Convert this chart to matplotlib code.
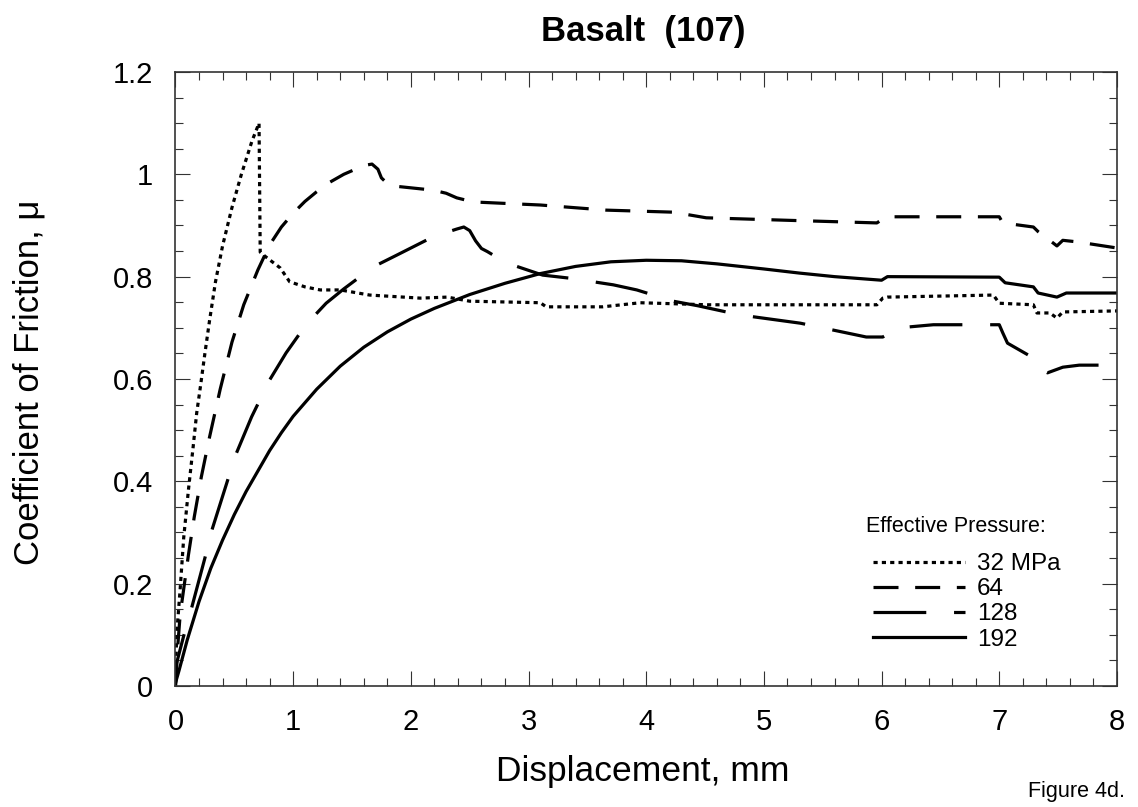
import matplotlib
matplotlib.use('Agg')
import matplotlib.pyplot as plt
from matplotlib.ticker import MultipleLocator, FuncFormatter

plt.rcParams['font.family'] = ['Liberation Sans', 'DejaVu Sans']
plt.rcParams['lines.scale_dashes'] = False

# data (displacement mm, friction coefficient)
x32 = [0.0, 0.01, 0.04, 0.07, 0.11, 0.15, 0.18, 0.21, 0.25, 0.29, 0.34, 0.40, 0.48, 0.56, 0.65,
       0.71, 0.72, 0.76, 0.89, 0.97, 1.1, 1.23, 1.4, 1.65, 2.08, 2.31, 2.5, 3.1, 3.15, 3.63,
       3.95, 4.52, 5.08, 5.6, 5.96, 6.01, 6.05, 6.95, 7.0, 7.29, 7.32, 7.43, 7.49, 7.54, 8.0]
y32 = [0.01, 0.10, 0.19, 0.29, 0.383, 0.467, 0.533, 0.582, 0.65, 0.715, 0.79, 0.86, 0.935, 1.0, 1.065,
       1.10, 0.848, 0.84, 0.817, 0.79, 0.78, 0.774, 0.774, 0.764, 0.758, 0.760, 0.752, 0.749, 0.741, 0.741,
       0.749, 0.745, 0.745, 0.745, 0.745, 0.758, 0.760, 0.764, 0.748, 0.745, 0.729, 0.729, 0.719, 0.731, 0.733]

x64 = [0.0, 0.02, 0.04, 0.11, 0.16, 0.22, 0.29, 0.38, 0.48, 0.58, 0.70, 0.80, 0.90, 1.0, 1.1,
       1.2, 1.3, 1.43, 1.55, 1.62, 1.67, 1.72, 1.75, 1.8, 1.9, 2.19, 2.3, 2.39, 2.53, 3.1,
       3.66, 4.23, 4.51, 5.22, 5.96, 6.04, 6.24, 7.0, 7.03, 7.29, 7.33, 7.4, 7.49, 7.54, 7.66,
       8.0]
y64 = [0.0, 0.08, 0.14, 0.256, 0.331, 0.409, 0.487, 0.58, 0.672, 0.745, 0.813, 0.862, 0.897, 0.924, 0.947,
       0.966, 0.983, 1.0, 1.012, 1.018, 1.02, 1.01, 0.993, 0.982, 0.976, 0.969, 0.963, 0.954, 0.946, 0.94,
       0.93, 0.926, 0.915, 0.91, 0.905, 0.917, 0.917, 0.917, 0.905, 0.897, 0.888, 0.876, 0.86, 0.871, 0.868,
       0.856]

x128 = [0.0, 0.01, 0.07, 0.14, 0.25, 0.31, 0.435, 0.505, 0.647, 0.80, 0.94, 1.06, 1.17, 1.28, 1.43,
        1.68, 1.88, 2.19, 2.39, 2.45, 2.5, 2.55, 2.6, 2.65, 2.81, 3.12, 3.35, 3.72, 3.92, 4.23,
        4.44, 4.80, 5.31, 5.87, 6.01, 6.15, 6.44, 7.0, 7.03, 7.07, 7.26, 7.32, 7.34, 7.41, 7.54,
        7.68, 8.0]
y128 = [0.0, 0.045, 0.098, 0.155, 0.25, 0.305, 0.396, 0.448, 0.526, 0.598, 0.651, 0.69, 0.721, 0.748, 0.776,
        0.819, 0.842, 0.878, 0.893, 0.897, 0.89, 0.87, 0.855, 0.849, 0.827, 0.803, 0.797, 0.784, 0.774, 0.752,
        0.743, 0.725, 0.709, 0.682, 0.682, 0.70, 0.706, 0.706, 0.69, 0.67, 0.645, 0.637, 0.621, 0.612, 0.623,
        0.627, 0.627]

x192 = [0.0, 0.03, 0.1, 0.2, 0.3, 0.4, 0.5, 0.6, 0.7, 0.8, 0.9, 1.0, 1.2, 1.4, 1.6,
        1.8, 2.0, 2.2, 2.5, 2.8, 3.1, 3.4, 3.7, 4.0, 4.3, 4.6, 5.0, 5.3, 5.6, 6.0,
        6.05, 7.0, 7.05, 7.29, 7.33, 7.49, 7.57, 8.0]
y192 = [0.006, 0.03, 0.09, 0.165, 0.23, 0.285, 0.335, 0.38, 0.42, 0.46, 0.495, 0.527, 0.58, 0.625, 0.662,
        0.692, 0.717, 0.738, 0.765, 0.787, 0.806, 0.82, 0.829, 0.832, 0.831, 0.825, 0.815, 0.807, 0.80, 0.793,
        0.80, 0.799, 0.788, 0.78, 0.768, 0.76, 0.768, 0.768]

labels = ['32 MPa', '64', '128', '192']

fig = plt.figure(figsize=(11.38, 8.07), dpi=100)
ax = fig.add_axes([0.1542, 0.150, 0.8273, 0.7608])

lw = 2.3
ax.plot(x32, y32, color='black', lw=lw, linestyle=(0, (3, 3)), label=labels[0])
ax.plot(x64, y64, color='black', lw=lw, linestyle=(0, (18, 12)), label=labels[1])
ax.plot(x128, y128, color='black', lw=lw, linestyle=(0, (38, 20)), label=labels[2])
ax.plot(x192, y192, color='black', lw=lw, linestyle='-', label=labels[3])

ax.set_xlim(0, 8)
ax.set_ylim(0, 1.2)
ax.xaxis.set_major_locator(MultipleLocator(1))
ax.xaxis.set_minor_locator(MultipleLocator(0.2))
ax.yaxis.set_major_locator(MultipleLocator(0.2))
ax.yaxis.set_minor_locator(MultipleLocator(0.05))
ax.yaxis.set_major_formatter(FuncFormatter(lambda v, p: '%g' % round(v, 2)))

ax.tick_params(which='both', direction='in', top=True, right=True, width=0.8, color='#333333')
ax.tick_params(which='major', length=10.8, labelsize=21, pad=16)
ax.tick_params(which='minor', length=5.8)
for s in ax.spines.values():
    s.set_linewidth(1.2)
    s.set_color('#333333')

# legend, title of it drawn separately to get the tight spacing of the reference
leg = ax.legend(loc='upper left',
                bbox_to_anchor=(873 / 1138, 1 - 553 / 807), bbox_transform=fig.transFigure,
                frameon=False, fontsize=17.5, handlelength=3.78,
                handletextpad=0.5, labelspacing=0.13, borderpad=0, borderaxespad=0)
fig.text(866 / 1138, 1 - 527 / 807, 'Effective Pressure:', fontsize=15.5, ha='left', va='center')

fig.text(643 / 1138, 1 - 31 / 807, 'Basalt  (107)', fontsize=25, fontweight='bold',
         ha='center', va='center')
fig.text(643 / 1138, 1 - 772 / 807, 'Displacement, mm', fontsize=25.5, ha='center', va='center')
fig.text(29 / 1138, 1 - 382 / 807, 'Coefficient of Friction, μ', fontsize=25, rotation=90,
         ha='center', va='center')
fig.text(1077 / 1138, 1 - 792 / 807, 'Figure 4d.', fontsize=15.5, ha='center', va='center')

fig.savefig('out.png', dpi=100, facecolor='white')
